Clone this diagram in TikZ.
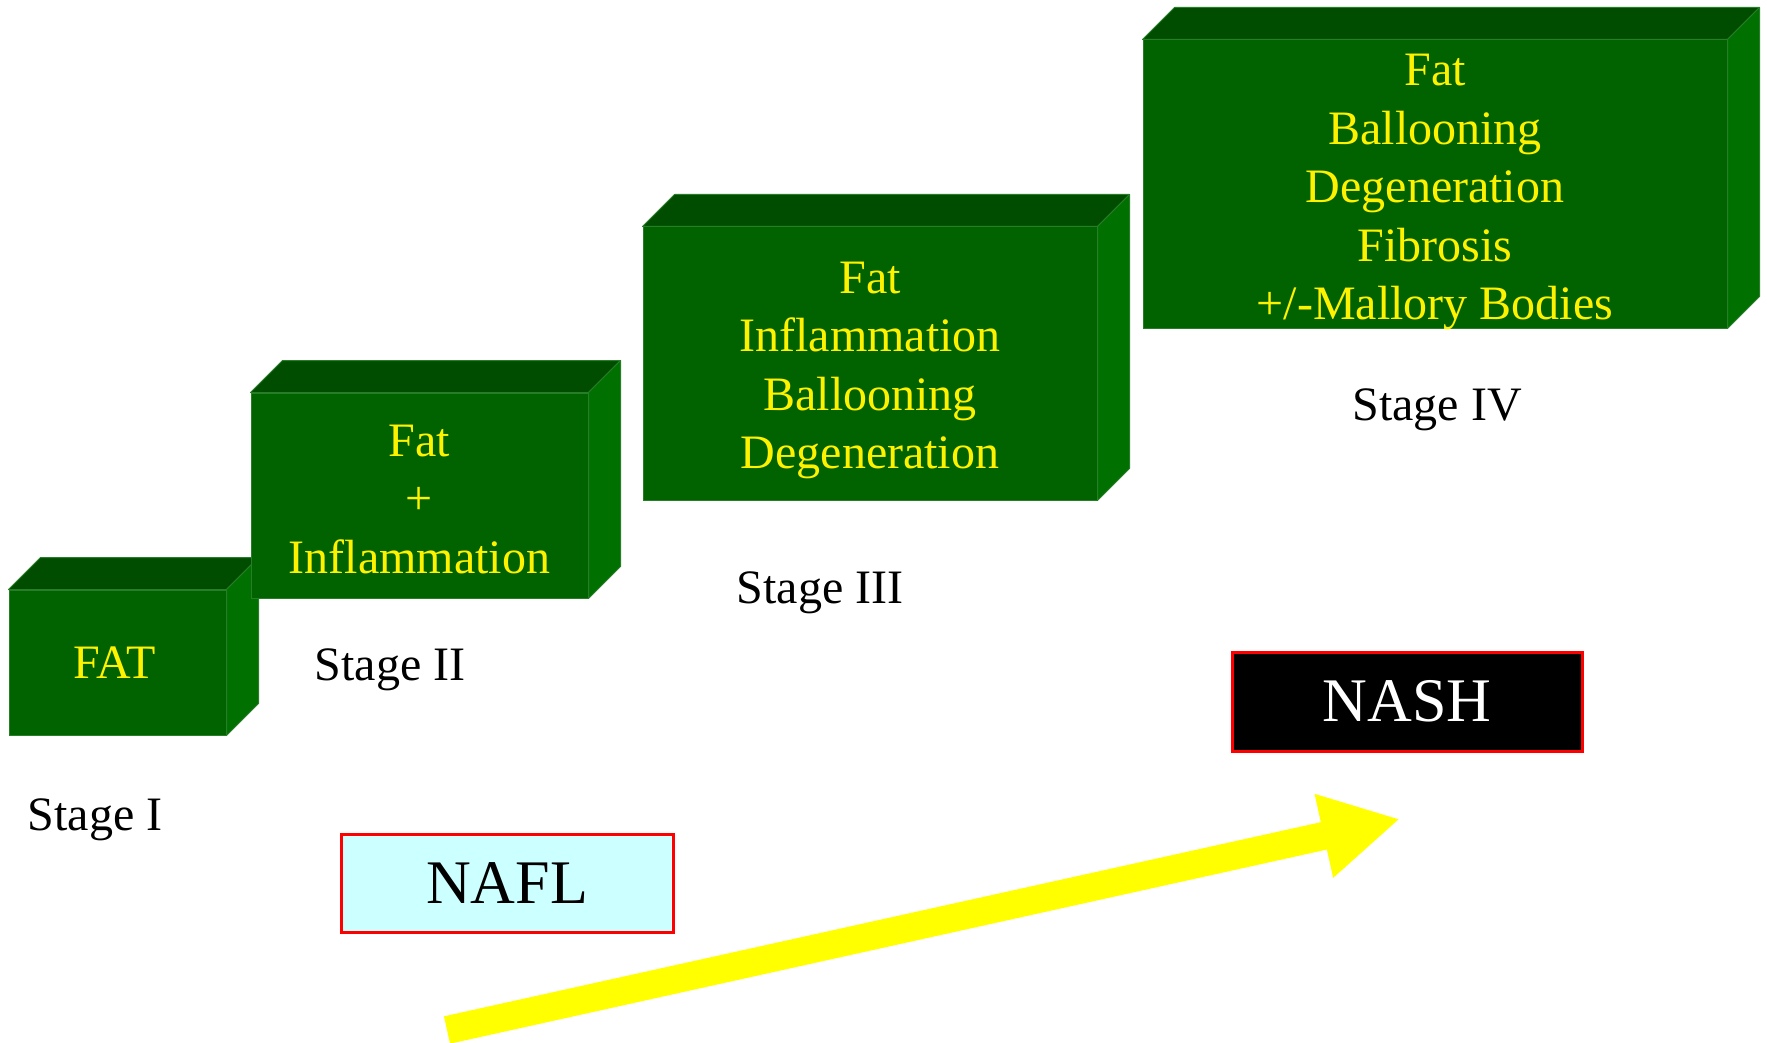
\documentclass[tikz,border=0pt]{standalone}
\usepackage{fontspec}
\setmainfont{Liberation Serif}
\usetikzlibrary{arrows.meta}

\definecolor{faceFront}{RGB}{0,99,0}
\definecolor{faceTop}{RGB}{0,77,0}
\definecolor{faceSide}{RGB}{0,113,0}
\definecolor{faceEdge}{RGB}{40,125,40}
\definecolor{nafFill}{RGB}{204,255,255}
\definecolor{arrowYellow}{RGB}{255,255,0}

% top and right faces of a block whose front face is node #1
\newcommand\blockdepth[1]{%
  \filldraw[topface] (#1.north west) -- ++(32,-32)
    -- ([shift={(32,-32)}]#1.north east) -- (#1.north east) -- cycle;
  \filldraw[sideface] (#1.north east) -- ([shift={(32,-32)}]#1.north east)
    -- ([shift={(32,-32)}]#1.south east) -- (#1.south east) -- cycle;
}

\begin{document}
\begin{tikzpicture}[x=1pt,y=-1pt,
  frontface/.style={rectangle, fill=faceFront, draw=faceEdge, line width=1pt,
    inner sep=0pt},
  blocktext/.style={text=yellow, align=center, inner sep=0pt,
    font=\fontsize{48}{58.5}\selectfont},
  topface/.style={fill=faceTop, draw=faceEdge, line width=1pt, line join=round},
  sideface/.style={fill=faceSide, draw=faceEdge, line width=1pt, line join=round},
  stagelabel/.style={anchor=base, text=black, font=\fontsize{48}{58}\selectfont},
  classbox/.style={rectangle, draw=red, line width=3pt, inner sep=0pt,
    font=\fontsize{62}{70}\selectfont}]

\useasboundingbox (0,0) rectangle (1767,1043);
\fill[white] (0,0) rectangle (1767,1043);

% Stage I block
\node[frontface, minimum width=217pt, minimum height=145pt] (b1) at (117.5,662.5) {};
\blockdepth{b1}
\node[blocktext] (t1) at ([xshift=-3pt]b1.center) {FAT};

% Stage II block
\node[frontface, minimum width=337pt, minimum height=205pt] (b2) at (419.5,495.5) {};
\blockdepth{b2}
\node[blocktext] (t2) at ([yshift=-4pt]b2.center) {Fat\\+\\Inflammation};

% Stage III block
\node[frontface, minimum width=454pt, minimum height=273pt] (b3) at (870,363.5) {};
\blockdepth{b3}
\node[blocktext] (t3) at ([yshift=-7pt]b3.center)
  {Fat\\Inflammation\\Ballooning\\Degeneration};

% Stage IV block
\node[frontface, minimum width=584pt, minimum height=288pt] (b4) at (1435,184) {};
\blockdepth{b4}
\node[blocktext] (t4) at ([yshift=-8pt]b4.center)
  {Fat\\Ballooning\\Degeneration\\Fibrosis\\+/-Mallory Bodies};

% stage captions
\node[stagelabel] (s1) at (95,830) {Stage I};
\node[stagelabel] (s2) at (390,680) {Stage II};
\node[stagelabel] (s3) at (820,603) {Stage III};
\node[stagelabel] (s4) at (1437,420) {Stage IV};

% disease classes
\node[classbox, fill=nafFill, text=black, minimum width=332pt, minimum height=98pt]
  (nafl) at (507,883) {NAFL};
\node[classbox, fill=black, text=white, minimum width=350pt, minimum height=99pt]
  (nash) at (1407,701.5) {NASH};

% progression arrow
\coordinate (progTail) at (447,1030);
\coordinate (progTip) at (1400,819);
\draw[arrowYellow, line width=28pt, -{Triangle[length=78pt,width=80pt]}]
  (progTail) -- (progTip);

\end{tikzpicture}
\end{document}
